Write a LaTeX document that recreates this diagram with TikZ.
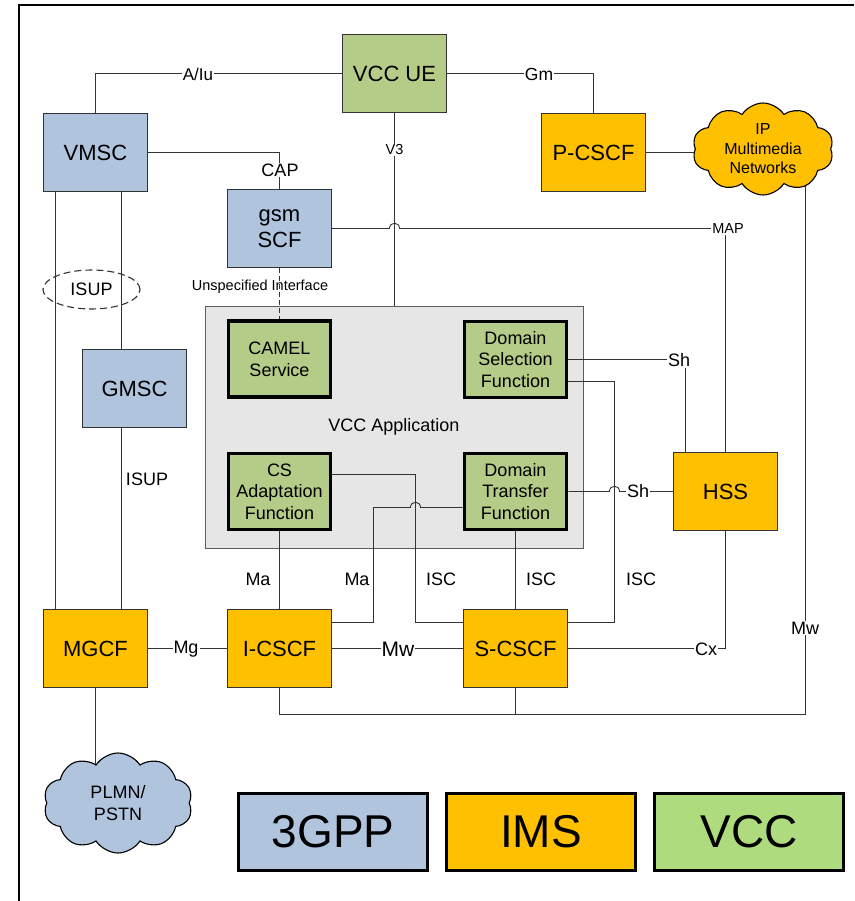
\documentclass[tikz,border=0pt]{standalone}
\usepackage{fontspec}
\setmainfont{Liberation Sans}
\usetikzlibrary{shapes.symbols,shapes.geometric,calc}
\definecolor{bl}{HTML}{B0C4DE}
\definecolor{og}{HTML}{FFC000}
\definecolor{gr}{HTML}{B5CB88}
\definecolor{lgr}{HTML}{ADDB7E}
\definecolor{ap}{HTML}{E6E6E6}
\definecolor{ln}{HTML}{333333}
\pgfdeclarelayer{bg}
\pgfsetlayers{bg,main}
\begin{document}
\begin{tikzpicture}[x=1pt,y=-1pt,
  box/.style={draw=ln, line width=1.1pt, minimum width=104, minimum height=78, inner sep=0, align=center, font=\fontsize{22}{26.5}\selectfont},
  bthree/.style={box, fill=bl},
  bims/.style={box, fill=og},
  bvcc/.style={box, fill=gr},
  fbox/.style={draw=black, line width=3.8pt, fill=gr, minimum width=102, minimum height=76, inner sep=0, align=center, font=\fontsize{18}{21.7}\selectfont},
  appbox/.style={draw=ln!80, line width=1pt, fill=ap, minimum width=378, minimum height=242, inner sep=0, font=\fontsize{18}{21}\selectfont},
  lbl/.style={fill=white, inner sep=1pt, font=\fontsize{18}{20}\selectfont},
  slbl/.style={fill=white, inner sep=1pt, font=\fontsize{14.5}{16}\selectfont},
  plbl/.style={inner sep=1pt, font=\fontsize{18}{20}\selectfont},
  conn/.style={draw=ln, line width=0.9pt},
  cloudshape/.style={cloud, cloud puffs=10, cloud puff arc=115, aspect=1.5, inner sep=0, align=center},
  leg/.style={draw=black, line width=2.6pt, minimum width=189, minimum height=77, inner sep=0, font=\fontsize{46}{50}\selectfont},
]
\useasboundingbox (0,0) rectangle (854,901);
\fill[white] (0,0) rectangle (854,901);
\draw[line width=2pt] (19,901) -- (19,5) -- (854,5);

% main nodes
\node[appbox] (app) at (394,427) {VCC Application};
\node[bvcc] (vccue) at (394.5,73.5) {VCC UE};
\node[bthree] (vmsc) at (95.5,152.5) {VMSC};
\node[bthree] (gsmscf) at (279.5,228.5) {gsm\\SCF};
\node[bims] (pcscf) at (593.5,152.5) {P-CSCF};
\node[bthree] (gmsc) at (134.5,388.5) {GMSC};
\node[fbox] (camel) at (279.5,359) {CAMEL\\Service};
\node[fbox] (csa) at (279.5,491.5) {CS\\Adaptation\\Function};
\node[fbox] (dsf) at (515.5,359.5) {Domain\\Selection\\Function};
\node[fbox] (dtf) at (515.5,491.5) {Domain\\Transfer\\Function};
\node[bims] (hss) at (725.5,491.5) {HSS};
\node[bims] (mgcf) at (95.5,648.5) {MGCF};
\node[bims] (icscf) at (279.5,648.5) {I-CSCF};
\node[bims] (scscf) at (515.5,648.5) {S-CSCF};
\node[ellipse, draw=ln, line width=1.1pt, dash pattern=on 7pt off 4pt, minimum width=97, minimum height=39, inner sep=0, font=\fontsize{18}{20}\selectfont] (isup) at (91.5,289.5) {ISUP};

% connectors
\draw[conn] (vmsc.north) |- (vccue.west);
\draw[conn] (vccue.east) -| (pcscf.north);
\draw[conn] (vmsc.east) -| (gsmscf.north);
\draw[conn] (vccue.south) -- (vccue.south |- app.north);
\draw[conn] (gsmscf.east) -- (389.5,228.5) .. controls (389.5,221.5) and (399.5,221.5) .. (399.5,228.5) -| (hss.north);
\draw[conn, dash pattern=on 5pt off 3pt] (gsmscf.south) -- (camel.north);
\draw[conn] (pcscf.east) -- (705,152.5);
\draw[conn] ([xshift=-40pt]vmsc.south) -- ([xshift=-40pt]mgcf.north);
\draw[conn] ([xshift=26pt]vmsc.south) -- ([xshift=-13pt]gmsc.north);
\draw[conn] ([xshift=-13pt]gmsc.south) -- ([xshift=26pt]mgcf.north);
\draw[conn] (dsf.east) -- (685.5,359.5) -- (hss.north -| 685.5,0);
\draw[conn] ([yshift=-22pt]dsf.east) -- (614.5,381.5) -- (614.5,622.5) -- ([yshift=26pt]scscf.east);
\draw[conn] (dtf.east) -- (609.5,491.5) .. controls (609.5,484.5) and (619.5,484.5) .. (619.5,491.5) -- (hss.west);
\draw[conn] (dtf.south) -- (scscf.north);
\draw[conn] ([yshift=17pt]csa.east) -- (415.5,474.5) -- (415.5,622.5) -- ([yshift=26pt]scscf.west);
\draw[conn] ([yshift=26pt]icscf.east) -- (373.5,622.5) -- (373.5,507.5) -- (410.5,507.5) .. controls (410.5,500.5) and (420.5,500.5) .. (420.5,507.5) -- ([yshift=-16pt]dtf.west);
\draw[conn] (csa.south) -- (icscf.north);
\draw[conn] (mgcf.east) -- (icscf.west);
\draw[conn] (icscf.east) -- (scscf.west);
\draw[conn] (scscf.east) -- (725.5,648.5) -- (hss.south);
\draw[conn] (icscf.south) |- (805.5,714.5) -- (805.5,175);
\draw[conn] (scscf.south) -- (515.5,714.5);
\draw[conn] (mgcf.south) -- (95.5,785);

% clouds
\begin{pgfonlayer}{bg}
\node[cloudshape, fill=og, minimum width=141, minimum height=92] (ipnsh) at (770,157) {};
\node[cloudshape, fill=bl, minimum width=149, minimum height=100] (pstnsh) at (125,808) {};
\end{pgfonlayer}
\node[cloudshape, draw=black, line width=1.1pt, fill=og, minimum width=141, minimum height=92, font=\fontsize{16}{19.5}\selectfont] (ipn) at (763,149) {IP\\Multimedia\\Networks};
\node[cloudshape, draw=black, line width=1.1pt, fill=bl, minimum width=149, minimum height=100, font=\fontsize{18}{22.5}\selectfont] (pstn) at (118,803) {PLMN/\\PSTN};
\draw[conn] (805.5,193) -- (805.5,205);

% labels
\node[lbl, font=\fontsize{17}{19}\selectfont] (la) at (198,74) {A/Iu};
\node[lbl, font=\fontsize{17.5}{19}\selectfont] (lgm) at (539,74) {Gm};
\node[lbl] (lcap) at (280,170) {CAP};
\node[slbl] (lv3) at (394.5,150) {V3};
\node[slbl] (lmap) at (728,229) {MAP};
\node[plbl, font=\fontsize{14.5}{16}\selectfont] (lui) at (260,287) {Unspecified Interface};
\node[plbl] (lisup) at (147,479) {ISUP};
\node[lbl] (lsh1) at (679,360) {Sh};
\node[lbl] (lsh2) at (638,491) {Sh};
\node[plbl] (lma1) at (258,579) {Ma};
\node[plbl] (lma2) at (357,579) {Ma};
\node[plbl] (lisc1) at (441,579) {ISC};
\node[plbl] (lisc2) at (541,579) {ISC};
\node[plbl] (lisc3) at (641,579) {ISC};
\node[lbl] (lmg) at (186,649) {Mg};
\node[lbl, font=\fontsize{21}{23}\selectfont] (lmw1) at (398,649) {Mw};
\node[lbl] (lcx) at (706,649) {Cx};
\node[lbl] (lmw2) at (805,628) {Mw};

% legend
\node[leg, fill=bl] (l3gpp) at (333,832) {3GPP};
\node[leg, fill=og] (lims) at (541,832) {IMS};
\node[leg, fill=lgr] (lvcc) at (749,832) {VCC};
\end{tikzpicture}
\end{document}
